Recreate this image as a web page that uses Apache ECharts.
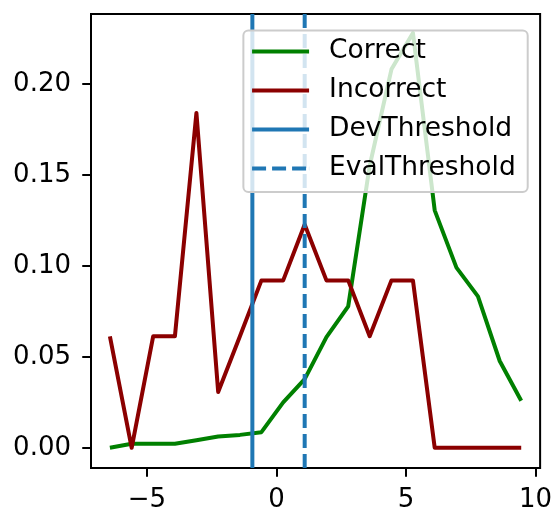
<!DOCTYPE html>
<html>
<head>
<meta charset="utf-8">
<script src="https://cdn.jsdelivr.net/npm/echarts@6/dist/echarts.min.js"></script>
<style>
  html, body { margin: 0; padding: 0; background: #fff; }
  #chart { width: 555px; height: 513px; }
</style>
</head>
<body>
<div id="chart"></div>
<script>
// Bin centres of the score histogram
const binCenters = [-6.43, -5.59, -4.76, -3.92, -3.09, -2.25, -1.41, -0.58, 0.26, 1.09,
                    1.93, 2.77, 3.60, 4.44, 5.27, 6.11, 6.95, 7.78, 8.62, 9.45];
// Density of scores for correct and incorrect items
const correctDensity = [0.000, 0.0022, 0.0022, 0.0022, 0.0042, 0.0062, 0.0071, 0.0086, 0.025, 0.0377,
                        0.0608, 0.0777, 0.155, 0.208, 0.228, 0.1305, 0.0990, 0.0832, 0.0477, 0.0259];
const incorrectDensity = [0.0613, 0.000, 0.0613, 0.0613, 0.184, 0.0307, 0.0613, 0.092, 0.092, 0.1227,
                          0.092, 0.092, 0.0613, 0.092, 0.092, 0.000, 0.000, 0.000, 0.000, 0.000];
// Decision thresholds
const devThreshold = -0.93;
const evalThreshold = 1.09;
// Axis ranges and tick labels
const xRange = [-7.16, 10.18];
const yRange = [-0.0111, 0.2384];
const xTicks = [-5, 0, 5, 10];
const yTicks = [0, 0.05, 0.10, 0.15, 0.20];

const FONT = 'DejaVu Sans';
const FONT_SIZE = 26;
const LINE_W = 4;
const pairs = (xs, ys) => xs.map((x, i) => [x, ys[i]]);
const vertical = x => [[x, yRange[0]], [x, yRange[1]]];

const chart = echarts.init(document.getElementById('chart'), null, { renderer: 'canvas' });

const axisCommon = {
  axisLine: { show: true, onZero: false, lineStyle: { color: '#000', width: 2 } },
  splitLine: { show: false },
};

chart.setOption({
  animation: false,
  backgroundColor: '#fff',
  grid: {
    left: 91, right: 14.3, top: 14, bottom: 42,
    show: true, borderColor: '#000', borderWidth: 2, backgroundColor: 'transparent'
  },
  xAxis: Object.assign({
    type: 'value', min: xRange[0], max: xRange[1],
    axisTick: { show: true, length: 8.75, lineStyle: { color: '#000', width: 2 }, customValues: xTicks },
    axisLabel: {
      customValues: xTicks, margin: 19, fontFamily: FONT, fontSize: FONT_SIZE, color: '#000',
      formatter: v => (v < 0 ? '\u2212' + Math.abs(v) : String(v))
    }
  }, axisCommon),
  yAxis: Object.assign({
    type: 'value', min: yRange[0], max: yRange[1],
    axisTick: { show: true, length: 8.75, lineStyle: { color: '#000', width: 2 }, customValues: yTicks },
    axisLabel: {
      customValues: yTicks, margin: 20, fontFamily: FONT, fontSize: FONT_SIZE, color: '#000',
      padding: [9, 0, 0, 0],
      formatter: v => v.toFixed(2)
    }
  }, axisCommon),
  legend: {
    orient: 'vertical',
    right: 27.3, top: 30.5,
    itemWidth: 57, itemHeight: 4, itemGap: 12,
    padding: [7.5, 12, 10, 8.7],
    backgroundColor: 'rgba(255,255,255,0.8)',
    borderColor: '#cccccc', borderWidth: 2, borderRadius: 5,
    textStyle: { fontFamily: FONT, fontSize: 26.5, color: '#000', lineHeight: 26, padding: [0, 0, 0, 15] },
    data: [
      { name: 'Correct', icon: 'rect' },
      { name: 'Incorrect', icon: 'rect' },
      { name: 'DevThreshold', icon: 'rect' },
      { name: 'EvalThreshold', icon: 'path://M0,0h14v4h-14z M20,0h14v4h-14z M40,0h14v4h-14z M56.9,0h0.1v4h-0.1z' }
    ]
  },
  series: [
    {
      name: 'Correct', type: 'line', data: pairs(binCenters, correctDensity),
      showSymbol: false, symbol: 'none', color: '#008000',
      lineStyle: { width: LINE_W, color: '#008000', join: 'round' }
    },
    {
      name: 'Incorrect', type: 'line', data: pairs(binCenters, incorrectDensity),
      showSymbol: false, symbol: 'none', color: '#8b0000',
      lineStyle: { width: LINE_W, color: '#8b0000', join: 'round' }
    },
    {
      name: 'DevThreshold', type: 'line', data: vertical(devThreshold),
      showSymbol: false, symbol: 'none', color: '#1f77b4',
      lineStyle: { width: LINE_W, color: '#1f77b4' }
    },
    {
      name: 'EvalThreshold', type: 'line', data: vertical(evalThreshold),
      showSymbol: false, symbol: 'none', color: '#1f77b4',
      lineStyle: { width: LINE_W, color: '#1f77b4', type: [14, 6] }
    }
  ]
});
</script>
</body>
</html>
